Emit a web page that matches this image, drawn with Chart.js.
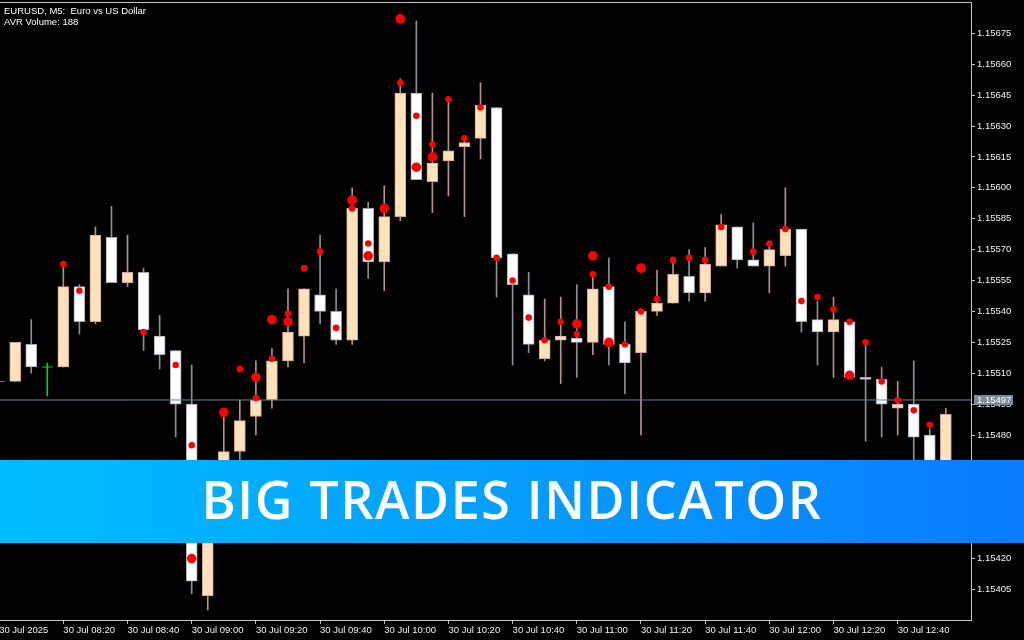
<!DOCTYPE html>
<html>
<head>
<meta charset="utf-8">
<script src="https://cdn.jsdelivr.net/npm/chart.js@4.4.1/dist/chart.umd.min.js"></script>
<style>
  html, body { margin: 0; padding: 0; background: #000; }
  #wrap { position: relative; width: 1024px; height: 640px; overflow: hidden; background: #000; }
  #chart { position: absolute; left: 0; top: 0; }
  #info {
    position: absolute; left: 4px; top: 5px; color: #fff; white-space: pre;
    font: 9.5px 'Liberation Sans', sans-serif; line-height: 11px;
  }
  #banner {
    position: absolute; left: 0; top: 460px; width: 1024px; height: 83px;
    background: linear-gradient(90deg, #00bdfd 0%, #0a7cff 100%);
    color: #fff; text-align: center; letter-spacing: 1.6px;
    font: 600 52px 'Open Sans', sans-serif; line-height: 78px;
  }
</style>
</head>
<body>
<div id="wrap">
  <canvas id="chart" width="1024" height="640"></canvas>
  <div id="info">EURUSD, M5:  Euro vs US Dollar
AVR Volume: 188</div>
  <div id="banner">BIG TRADES INDICATOR</div>
</div>
<script>
// one label every 4 bars (20 minutes), bar 0 = 08:00
const xTickLabels = [
  '30 Jul 2025', '30 Jul 08:20', '30 Jul 08:40', '30 Jul 09:00', '30 Jul 09:20',
  '30 Jul 09:40', '30 Jul 10:00', '30 Jul 10:20', '30 Jul 10:40', '30 Jul 11:00',
  '30 Jul 11:20', '30 Jul 11:40', '30 Jul 12:00', '30 Jul 12:20', '30 Jul 12:40',
];
const yTickValues = [
  1.15675, 1.15660, 1.15645, 1.15630, 1.15615, 1.15600, 1.15585, 1.15570, 1.15555, 1.15540,
  1.15525, 1.15510, 1.15495, 1.15480, 1.15465, 1.15450, 1.15435, 1.15420, 1.15405,
];

// EURUSD M5 bars
const opens = [
  1.15506, 1.15506, 1.15524, 1.15513, 1.15513, 1.15552, 1.15535, 1.15576, 1.15554, 1.15559,
  1.15528, 1.15521, 1.15495, 1.15402, 1.15448, 1.15472, 1.15489, 1.15497, 1.15516, 1.15528,
  1.15548, 1.15540, 1.15526, 1.15590, 1.15564, 1.15586, 1.15646, 1.15603, 1.15613, 1.15620,
  1.15624, 1.15639, 1.15568, 1.15548, 1.15517, 1.15526, 1.15527, 1.15525, 1.15552, 1.15524,
  1.15520, 1.15540, 1.15544, 1.15557, 1.15549, 1.15562, 1.15581, 1.15565, 1.15562, 1.15567,
  1.15580, 1.15536, 1.15530, 1.15535, 1.15508, 1.15507, 1.15493, 1.15495, 1.15480, 1.15463,
];
const highs = [
  1.15509, 1.15525, 1.15536, 1.15515, 1.15562, 1.15553, 1.15581, 1.15591, 1.15577, 1.15561,
  1.15538, 1.15521, 1.15514, 1.15452, 1.15489, 1.15497, 1.15516, 1.15522, 1.15551, 1.15551,
  1.15577, 1.15551, 1.15600, 1.15593, 1.15601, 1.15653, 1.15681, 1.15646, 1.15643, 1.15624,
  1.15651, 1.15639, 1.15568, 1.15559, 1.15546, 1.15547, 1.15553, 1.15558, 1.15566, 1.15535,
  1.15540, 1.15560, 1.15565, 1.15570, 1.15571, 1.15587, 1.15581, 1.15583, 1.15573, 1.15600,
  1.15580, 1.15545, 1.15547, 1.15535, 1.15525, 1.15513, 1.15506, 1.15516, 1.15483, 1.15493,
];
const lows = [
  1.15503, 1.15506, 1.15510, 1.15499, 1.15513, 1.15529, 1.15534, 1.15554, 1.15552, 1.15521,
  1.15512, 1.15479, 1.15403, 1.15395, 1.15440, 1.15463, 1.15480, 1.15493, 1.15513, 1.15515,
  1.15534, 1.15524, 1.15524, 1.15556, 1.15550, 1.15584, 1.15604, 1.15588, 1.15596, 1.15586,
  1.15614, 1.15547, 1.15514, 1.15520, 1.15516, 1.15505, 1.15508, 1.15519, 1.15514, 1.15500,
  1.15480, 1.15538, 1.15544, 1.15545, 1.15545, 1.15562, 1.15561, 1.15562, 1.15549, 1.15562,
  1.15530, 1.15514, 1.15508, 1.15508, 1.15477, 1.15479, 1.15480, 1.15458, 1.15458, 1.15460,
];
const closes = [
  1.15506, 1.15525, 1.15513, 1.15513, 1.15552, 1.15535, 1.15577, 1.15554, 1.15559, 1.15531,
  1.15519, 1.15495, 1.15409, 1.15448, 1.15472, 1.15487, 1.15497, 1.15516, 1.15530, 1.15551,
  1.15540, 1.15526, 1.15590, 1.15564, 1.15586, 1.15646, 1.15604, 1.15612, 1.15618, 1.15622,
  1.15640, 1.15566, 1.15553, 1.15524, 1.15526, 1.15528, 1.15525, 1.15551, 1.15524, 1.15515,
  1.15540, 1.15544, 1.15558, 1.15549, 1.15563, 1.15582, 1.15565, 1.15562, 1.15570, 1.15580,
  1.15535, 1.15530, 1.15536, 1.15508, 1.15507, 1.15495, 1.15495, 1.15479, 1.15463, 1.15490,
];

// big trades: bar index, price, tier (1 = normal, 2 = large)
const tradeBar = [
  4, 5, 9, 11, 12, 12, 14, 15, 16, 16, 17, 17, 18, 18, 19, 20, 21, 22, 22, 23, 23, 24,
  25, 25, 26, 26, 27, 27, 28, 29, 30, 31, 32, 33, 34, 35, 36, 36, 37, 37, 38, 38, 39,
  40, 40, 41, 42, 43, 44, 45, 47, 48, 49, 50, 51, 52, 53, 53, 54, 55, 56, 57, 58,
];
const tradePrice = [
  1.15563, 1.15550, 1.15530, 1.15514, 1.15475, 1.15420, 1.15491, 1.15512, 1.15508, 1.15498,
  1.15517, 1.15536, 1.15539, 1.15535, 1.15561, 1.15569, 1.15532, 1.15594, 1.15590, 1.15573,
  1.15567, 1.15590, 1.15682, 1.15651, 1.15635, 1.15610, 1.15621, 1.15615, 1.15643, 1.15624,
  1.15639, 1.15566, 1.15555, 1.15537, 1.15526, 1.15535, 1.15534, 1.15529, 1.15558, 1.15567,
  1.15552, 1.15525, 1.15524, 1.15561, 1.15540, 1.15546, 1.15565, 1.15566, 1.15565, 1.15581,
  1.15569, 1.15573, 1.15580, 1.15545, 1.15547, 1.15541, 1.15535, 1.15509, 1.15525, 1.15506,
  1.15497, 1.15492, 1.15485,
];
const tradeTier = [
  1, 1, 1, 1, 1, 2, 2, 1, 2, 1, 1, 2, 1, 2, 1, 1, 1, 2, 1, 1, 2, 2,
  2, 1, 1, 2, 1, 2, 1, 1, 1, 1, 1, 1, 1, 1, 2, 1, 1, 2, 1, 2, 1,
  2, 1, 1, 1, 1, 1, 1, 1, 1, 1, 1, 1, 1, 1, 2, 1, 1, 1, 1, 1,
];

const bidPrice = 1.15497;

const AXIS = '#c8c8c8';
const TEXT = '#f2f2f2';
const BULL_FILL = '#ffe3b8';
const BULL_EDGE = '#d9a2a2';
const BULL_WICK = '#b98e8e';
const BEAR_FILL = '#ffffff';
const BEAR_EDGE = '#a6a6b6';
const BEAR_WICK = '#8e8e9a';
const DOJI = '#1ec81e';
const TRADE = '#ff0000';
const BID = '#6f7f8f';
const FONT = "'Liberation Sans', sans-serif";
const FONT_SIZE = 9.5;

const X_MIN = 0.052;
const X_MAX = 60.569;

const kind = (i) => (closes[i] > opens[i] ? 'bull' : closes[i] < opens[i] ? 'bear' : 'doji');
const wickColor = (i) => ({ bull: BULL_WICK, bear: BEAR_WICK, doji: DOJI })[kind(i)];

const bars = opens.map((_, i) => i);

const framePlugin = {
  id: 'frame',
  afterDraw(chart) {
    const { ctx, chartArea: a, scales: { y } } = chart;
    ctx.save();
    ctx.strokeStyle = AXIS;
    ctx.lineWidth = 1;
    ctx.beginPath();
    ctx.moveTo(0, a.top + 0.5);
    ctx.lineTo(a.right, a.top + 0.5);
    ctx.stroke();
    // bid price tag on the axis
    const py = Math.round(y.getPixelForValue(bidPrice));
    ctx.fillStyle = '#7d8b99';
    ctx.fillRect(a.right + 3, py - 5, 39, 10);
    ctx.fillStyle = '#ffffff';
    ctx.font = `${FONT_SIZE}px ${FONT}`;
    ctx.textBaseline = 'middle';
    ctx.fillText(bidPrice.toFixed(5), a.right + 6, py + 0.5);
    ctx.restore();
  },
};

const ctx = document.getElementById('chart').getContext('2d');
new Chart(ctx, {
  type: 'bar',
  data: {
    datasets: [
      {
        label: 'trades',
        type: 'scatter',
        data: tradeBar.map((b, k) => ({ x: b, y: tradePrice[k] })),
        backgroundColor: TRADE,
        borderWidth: 0,
        pointRadius: (c) => (tradeTier[c.dataIndex] === 2 ? 4.8 : 3.3),
        order: 0,
      },
      {
        label: 'bid',
        type: 'line',
        data: [{ x: X_MIN, y: bidPrice }, { x: X_MAX, y: bidPrice }],
        borderColor: BID,
        borderWidth: 1,
        pointRadius: 0,
        order: 1,
      },
      {
        label: 'doji',
        type: 'scatter',
        data: bars.filter((i) => kind(i) === 'doji').map((i) => ({ x: i, y: opens[i] })),
        pointStyle: 'line',
        pointRadius: 5.5,
        borderColor: DOJI,
        borderWidth: 1,
        order: 2,
      },
      {
        label: 'body',
        data: bars.filter((i) => kind(i) !== 'doji').map((i) => ({ x: i, y: [opens[i], closes[i]] })),
        backgroundColor: (c) => (kind(c.raw.x) === 'bull' ? BULL_FILL : BEAR_FILL),
        borderColor: (c) => (kind(c.raw.x) === 'bull' ? BULL_EDGE : BEAR_EDGE),
        borderWidth: 1,
        borderSkipped: false,
        barThickness: 11,
        grouped: false,
        order: 3,
      },
      {
        label: 'wick',
        data: bars.map((i) => ({ x: i, y: [lows[i], highs[i]] })),
        backgroundColor: (c) => wickColor(c.raw.x),
        borderWidth: 0,
        barThickness: 1,
        grouped: false,
        order: 4,
      },
    ],
  },
  options: {
    responsive: false,
    animation: false,
    events: [],
    layout: { autoPadding: false, padding: { top: 2, left: 0, right: 0, bottom: 0 } },
    plugins: { legend: { display: false }, tooltip: { enabled: false } },
    scales: {
      x: {
        type: 'linear',
        position: 'bottom',
        min: X_MIN,
        max: X_MAX,
        offset: false,
        grid: { display: true, drawOnChartArea: false, drawTicks: true, tickLength: 4, color: AXIS, offset: false },
        border: { display: true, color: AXIS },
        ticks: {
          autoSkip: false,
          maxRotation: 0,
          align: 'start',
          padding: 1,
          color: TEXT,
          font: { family: FONT, size: FONT_SIZE },
          callback: (value, index) => xTickLabels[index],
        },
        afterBuildTicks: (scale) => {
          scale.ticks = xTickLabels.map((_, k) => ({ value: k * 4 }));
        },
        afterFit: (scale) => {
          scale.height = 20;
          scale.paddingLeft = 0;
          scale.paddingRight = 0;
        },
      },
      y: {
        type: 'linear',
        position: 'right',
        min: 1.153902,
        max: 1.156902,
        grid: { display: true, drawOnChartArea: false, drawTicks: true, tickLength: 4, color: AXIS },
        border: { display: true, color: AXIS },
        ticks: {
          padding: 2,
          color: TEXT,
          font: { family: FONT, size: FONT_SIZE },
          callback: (value) => Number(value).toFixed(5),
        },
        afterBuildTicks: (scale) => {
          scale.ticks = yTickValues.map((v) => ({ value: v }));
        },
        afterFit: (scale) => {
          scale.width = 53;
          scale.paddingTop = 0;
          scale.paddingBottom = 0;
        },
      },
    },
  },
  plugins: [framePlugin],
});
</script>
</body>
</html>
